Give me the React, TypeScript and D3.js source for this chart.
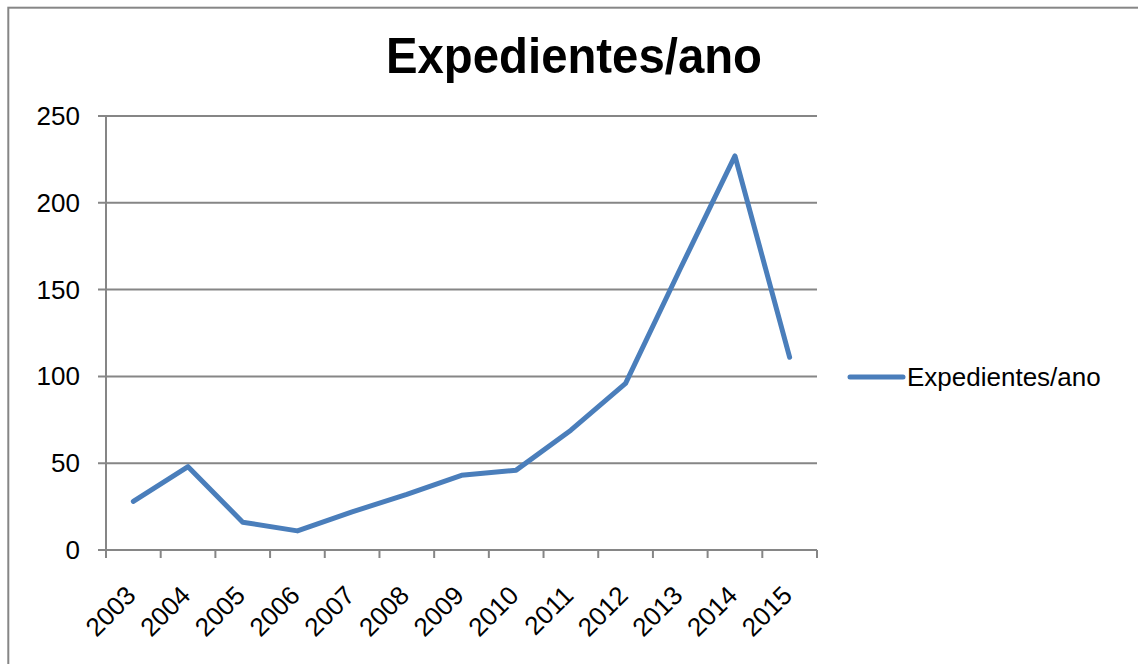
import { useEffect, useRef } from 'react';
import * as d3 from 'd3';

const years = ['2003', '2004', '2005', '2006', '2007', '2008', '2009', '2010', '2011', '2012', '2013', '2014', '2015'];
const expedientes = [28, 48, 16, 11, 22, 32, 43, 46, 69, 96, 162, 227, 111];
const yTicks = [0, 50, 100, 150, 200, 250];
const seriesName = 'Expedientes/ano';

const WIDTH = 1138;
const HEIGHT = 664;
const FONT = 'Liberation Sans, Arial, sans-serif';
const GRAY = '#868686';
const BLUE = '#4a7ebb';

export default function App() {
  const svgRef = useRef<SVGSVGElement>(null);

  useEffect(() => {
    if (!svgRef.current) return;
    const svg = d3.select(svgRef.current);
    svg.selectAll('*').remove();

    const plot = { left: 106, right: 817, top: 116, bottom: 550 };

    svg.append('rect')
      .attr('width', WIDTH)
      .attr('height', HEIGHT)
      .attr('fill', '#fff');

    // chart border
    svg.append('rect')
      .attr('x', 8.3)
      .attr('y', 7.7)
      .attr('width', WIDTH + 20)
      .attr('height', HEIGHT + 20)
      .attr('fill', 'none')
      .attr('stroke', GRAY)
      .attr('stroke-width', 2);

    const x = d3.scaleBand<string>()
      .domain(years)
      .range([plot.left, plot.right]);

    const y = d3.scaleLinear()
      .domain([0, 250])
      .range([plot.bottom, plot.top]);

    // gridlines + y ticks
    const yg = svg.append('g');
    yTicks.forEach(t => {
      yg.append('line')
        .attr('x1', plot.left - 8)
        .attr('x2', plot.right)
        .attr('y1', y(t))
        .attr('y2', y(t))
        .attr('stroke', GRAY)
        .attr('stroke-width', 2);
      yg.append('text')
        .attr('x', 80)
        .attr('y', y(t) + 9)
        .attr('text-anchor', 'end')
        .attr('font-family', FONT)
        .attr('font-size', 26)
        .attr('fill', '#000')
        .text(t);
    });

    // y axis line
    svg.append('line')
      .attr('x1', plot.left)
      .attr('x2', plot.left)
      .attr('y1', plot.top)
      .attr('y2', plot.bottom)
      .attr('stroke', GRAY)
      .attr('stroke-width', 2);

    // x ticks
    const tickPos = years.map(d => x(d)!).concat([plot.right]);
    tickPos.forEach(p => {
      svg.append('line')
        .attr('x1', p)
        .attr('x2', p)
        .attr('y1', plot.bottom)
        .attr('y2', plot.bottom + 8)
        .attr('stroke', GRAY)
        .attr('stroke-width', 2);
    });

    // x labels, rotated
    years.forEach(d => {
      const cx = x(d)! + x.bandwidth() / 2 + 4;
      const cy = 597;
      svg.append('text')
        .attr('transform', `translate(${cx},${cy}) rotate(-45)`)
        .attr('text-anchor', 'end')
        .attr('font-family', FONT)
        .attr('font-size', 26)
        .attr('fill', '#000')
        .text(d);
    });

    // series line
    const line = d3.line<number>()
      .x((_, i) => x(years[i])! + x.bandwidth() / 2)
      .y(d => y(d));

    svg.append('path')
      .datum(expedientes)
      .attr('d', line)
      .attr('fill', 'none')
      .attr('stroke', BLUE)
      .attr('stroke-width', 5)
      .attr('stroke-linejoin', 'round')
      .attr('stroke-linecap', 'round');

    // legend
    svg.append('line')
      .attr('x1', 850)
      .attr('x2', 903)
      .attr('y1', 377)
      .attr('y2', 377)
      .attr('stroke', BLUE)
      .attr('stroke-width', 5)
      .attr('stroke-linecap', 'round');

    svg.append('text')
      .attr('x', 907)
      .attr('y', 386)
      .attr('font-family', FONT)
      .attr('font-size', 26)
      .attr('fill', '#000')
      .text(seriesName);

    // title
    svg.append('text')
      .attr('x', 574)
      .attr('y', 73)
      .attr('text-anchor', 'middle')
      .attr('font-family', FONT)
      .attr('font-size', 50)
      .attr('font-weight', 'bold')
      .attr('textLength', 376)
      .attr('lengthAdjust', 'spacingAndGlyphs')
      .attr('fill', '#000')
      .text(seriesName);
  }, []);

  return (
    <div style={{ position: 'absolute', left: 0, top: 0 }}>
      <svg ref={svgRef} width={WIDTH} height={HEIGHT} style={{ display: 'block' }} />
    </div>
  );
}
